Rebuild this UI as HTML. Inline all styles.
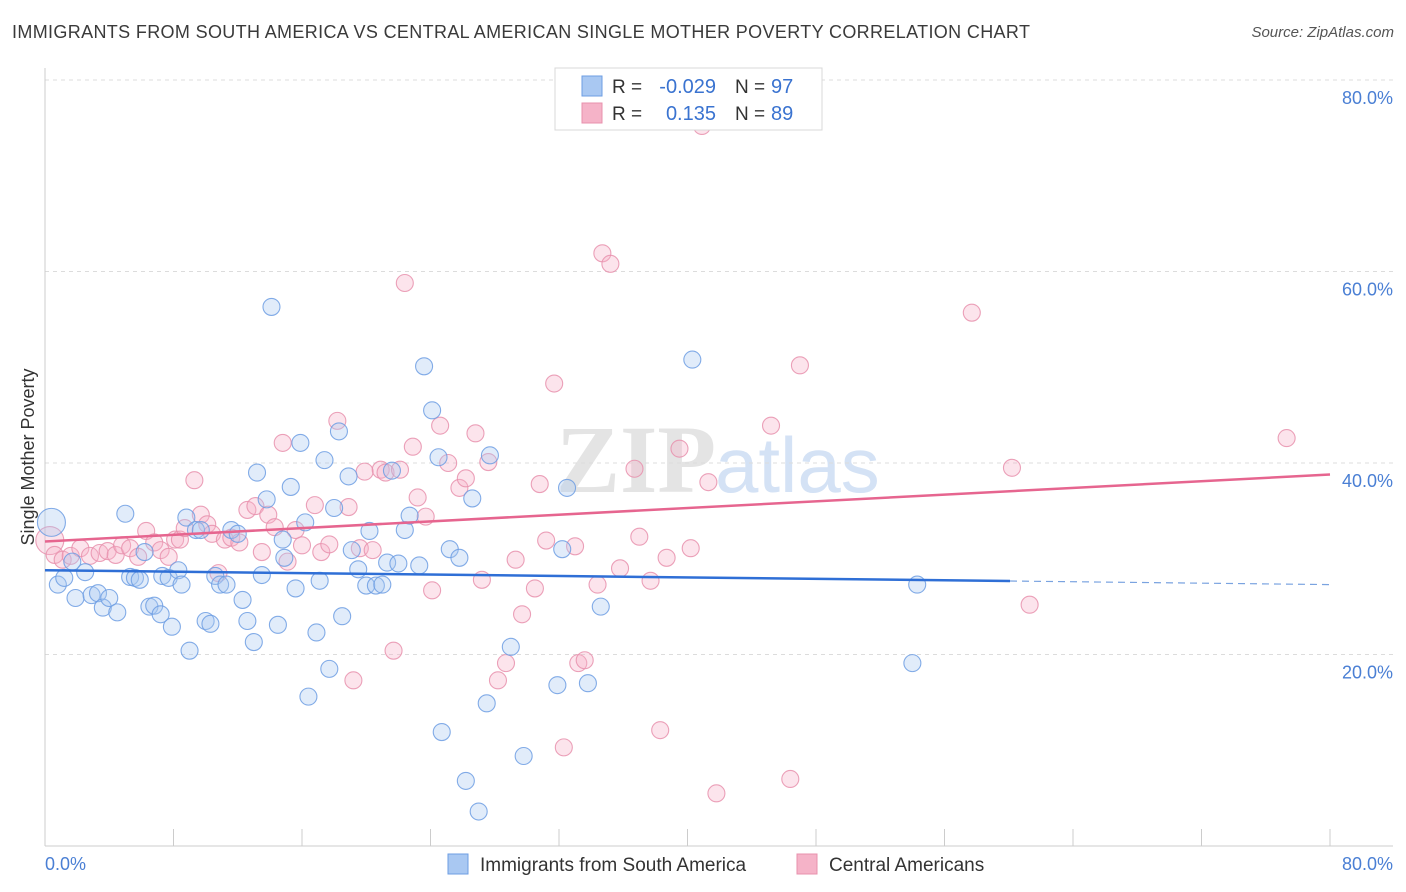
<!DOCTYPE html>
<html><head><meta charset="utf-8">
<style>
body{margin:0;background:#fff;font-family:"Liberation Sans",sans-serif;}
#wrap{position:relative;width:1406px;height:892px;overflow:hidden;}
.t{position:absolute;white-space:nowrap;}
</style></head>
<body>
<div id="wrap">
<div class="t" style="left:12px;top:22px;font-size:18px;letter-spacing:0.35px;color:#3a3a3a;">IMMIGRANTS FROM SOUTH AMERICA VS CENTRAL AMERICAN SINGLE MOTHER POVERTY CORRELATION CHART</div>
<div class="t" style="right:12px;top:24px;font-size:15px;color:#555;font-style:italic;">Source: ZipAtlas.com</div>
<svg id="svg" width="1406" height="892" style="position:absolute;left:0;top:0"></svg>
</div>
<script>
const xTicks=[0,8,16,24,32,40,48,56,64,72,80];
const yTickVals=[20,40,60,80];
const yTickLabels=["20.0%","40.0%","60.0%","80.0%"];
const blueX=[0.4,0.8,1.2,1.7,1.9,2.5,2.9,3.3,3.6,4.0,4.5,5.0,5.3,5.6,5.9,6.2,6.5,6.8,7.2,7.3,7.7,7.9,8.3,8.5,8.8,9.0,9.4,9.7,10.0,10.3,10.6,10.9,11.3,11.6,12.0,12.3,12.6,13.0,13.2,13.5,13.8,14.1,14.5,14.8,14.9,15.3,15.6,15.9,16.2,16.4,16.9,17.1,17.4,17.7,18.0,18.3,18.5,18.9,19.1,19.5,20.0,20.2,20.6,21.0,21.3,21.6,22.0,22.4,22.7,23.3,23.6,24.1,24.5,24.7,25.2,25.8,26.2,26.6,27.0,27.5,27.7,29.0,29.8,31.9,32.2,32.5,33.8,34.6,40.3,54.0,54.3];
const blueY=[33.8,27.3,28.0,29.7,25.9,28.6,26.2,26.4,24.9,25.9,24.4,34.7,28.1,28.0,27.8,30.7,25.0,25.1,24.2,28.2,28.0,22.9,28.8,27.3,34.3,20.4,33.0,33.0,23.5,23.2,28.2,27.3,27.3,33.0,32.6,25.7,23.5,21.3,39.0,28.3,36.2,56.3,23.1,32.0,30.1,37.5,26.9,42.1,33.8,15.6,22.3,27.7,40.3,18.5,35.3,43.3,24.0,38.6,30.9,28.9,27.2,32.9,27.2,27.3,29.6,39.2,29.5,33.0,34.5,29.3,50.1,45.5,40.6,11.9,31.0,30.1,6.8,36.3,3.6,14.9,40.8,20.8,9.4,16.8,31.0,37.4,17.0,25.0,50.8,19.1,27.3];
const pinkX=[0.3,0.6,1.1,1.6,2.2,2.8,3.4,3.9,4.4,4.8,5.3,5.8,6.3,6.8,7.2,7.7,8.1,8.4,8.7,9.3,9.7,10.1,10.4,10.8,11.2,11.6,12.1,12.6,13.1,13.5,13.9,14.3,14.8,15.1,15.6,16.0,16.8,17.2,17.7,18.2,18.9,19.2,19.6,19.9,20.4,20.9,21.2,21.7,22.1,22.4,22.9,23.2,23.7,24.1,24.6,25.1,25.8,26.2,26.8,27.2,27.6,28.2,28.7,29.3,29.7,30.5,30.8,31.2,31.7,32.3,33.0,33.2,33.6,34.4,34.7,35.2,35.8,36.7,37.0,37.7,38.3,38.7,39.5,40.2,40.9,41.3,41.8,45.2,46.4,47.0,57.7,60.2,61.3,77.3];
const pinkY=[31.9,30.4,29.9,30.3,31.1,30.3,30.6,30.8,30.4,31.4,31.1,30.2,32.9,31.7,30.9,30.2,32.0,32.0,33.2,38.2,34.6,33.6,32.6,28.5,32.0,32.2,31.7,35.1,35.5,30.7,34.6,33.3,42.1,29.7,33.0,31.4,35.6,30.7,31.5,44.4,35.4,17.3,31.1,39.1,30.9,39.3,39.0,20.4,39.3,58.8,41.7,36.4,34.4,26.7,43.9,40.0,37.4,38.4,43.1,27.8,40.1,17.3,19.1,29.9,24.2,26.9,37.8,31.9,48.3,10.3,31.3,19.1,19.4,27.3,61.9,60.8,29.0,39.4,32.3,27.7,12.1,30.1,41.5,31.1,75.2,38.0,5.5,43.9,7.0,50.2,55.7,39.5,25.2,42.6];
const blueTrend=[28.8,27.3];
const pinkTrend=[31.8,38.8];

const X=v=>45+v/80*1285;
const Y=v=>846-v/20*191.5;
const svg=document.getElementById('svg');
const NS="http://www.w3.org/2000/svg";
function mk(tag,attrs){const e=document.createElementNS(NS,tag);for(const k in attrs)e.setAttribute(k,attrs[k]);svg.appendChild(e);return e;}

let wm=mk('text',{x:556,y:492,'font-size':96,'font-family':'Liberation Serif, serif',fill:'#e4e4e4','font-weight':'bold'});wm.textContent='ZIP';


let wm2=mk('text',{x:715,y:492,'font-size':78,'font-family':'Liberation Sans, sans-serif',fill:'#d4e2f5'});wm2.textContent='atlas';



yTickVals.forEach((v,i)=>{
 const g=mk('line',{x1:45,x2:1393,y1:Y(v),y2:Y(v),stroke:'#dcdcdc','stroke-dasharray':'4,4'});
 
 
 const t=mk('text',{x:1393,y:Y(v)+24,'text-anchor':'end','font-size':18,fill:'#4a7fd4'});t.textContent=yTickLabels[i];
 
 
});
let ax=mk('line',{x1:45,x2:45,y1:68,y2:846,stroke:'#ccc'});


let bx=mk('line',{x1:45,x2:1393,y1:846,y2:846,stroke:'#ccc'});


xTicks.forEach(v=>{
 const l=mk('line',{x1:X(v),x2:X(v),y1:829,y2:846,stroke:'#ccc'});
 
 
});
let xl0=mk('text',{x:45,y:870,'font-size':18,fill:'#4a7fd4'});xl0.textContent='0.0%';


let xl1=mk('text',{x:1393,y:870,'font-size':18,fill:'#4a7fd4','text-anchor':'end'});xl1.textContent='80.0%';


let yt=mk('text',{x:34,y:457,'font-size':18,fill:'#333','text-anchor':'middle',transform:'rotate(-90 34 457)'});yt.textContent='Single Mother Poverty';



function pts(xs,ys,fill,stroke,name){
 xs.forEach((x,i)=>{
  const r=(i===0)?14:8.5;
  const c=mk('circle',{cx:X(x),cy:Y(ys[i]),r:r,fill:fill,'fill-opacity':0.35,stroke:stroke,'stroke-width':1.1,'stroke-opacity':0.85});
  
  
 });
}
pts(pinkX,pinkY,'#f5b3c8','#e890ad','pink-point');
pts(blueX,blueY,'#a9c8f2','#6d9ee3','blue-point');

const bEnd=(1010-45)/1285*80;
const bMid=blueTrend[0]+(blueTrend[1]-blueTrend[0])*(bEnd/80);
let bl=mk('line',{x1:X(0),y1:Y(blueTrend[0]),x2:X(bEnd),y2:Y(bMid),stroke:'#2f6fd6','stroke-width':2.5});


let bd=mk('line',{x1:X(bEnd),y1:Y(bMid),x2:X(80),y2:Y(blueTrend[1]),stroke:'#7aa3e0','stroke-width':1.2,'stroke-dasharray':'7,5'});


let pl=mk('line',{x1:X(0),y1:Y(pinkTrend[0]),x2:X(80),y2:Y(pinkTrend[1]),stroke:'#e6658f','stroke-width':2.5});



let lb=mk('rect',{x:555,y:68,width:267,height:62,fill:'#fff',stroke:'#d8d8d8'});


[['#a9c8f2','#6d9ee3','-0.029','97',86],['#f5b3c8','#e890ad','0.135','89',113]].forEach((r,i)=>{
 const s=mk('rect',{x:582,y:r[4]-10,width:20,height:20,fill:r[0],stroke:r[1]});
 
 
 const t1=mk('text',{x:612,y:r[4]+7,'font-size':19,fill:'#333'});t1.textContent='R = ';
 
 
 const t2=mk('text',{x:716,y:r[4]+7,'font-size':20,fill:'#3a73d0','text-anchor':'end'});t2.textContent=r[2];
 
 
 const t3=mk('text',{x:735,y:r[4]+7,'font-size':19,fill:'#333'});t3.textContent='N = ';
 
 
 const t4=mk('text',{x:771,y:r[4]+7,'font-size':20,fill:'#3a73d0'});t4.textContent=r[3];
 
 
});
[['#a9c8f2','#6d9ee3','Immigrants from South America',448],['#f5b3c8','#e890ad','Central Americans',797]].forEach(r=>{
 const s=mk('rect',{x:r[3],y:854,width:20,height:20,fill:r[0],stroke:r[1]});
 
 
 const t=mk('text',{x:r[3]+32,y:871,'font-size':19,fill:'#333'});t.textContent=r[2];
 
 
});
</script>
</body></html>
